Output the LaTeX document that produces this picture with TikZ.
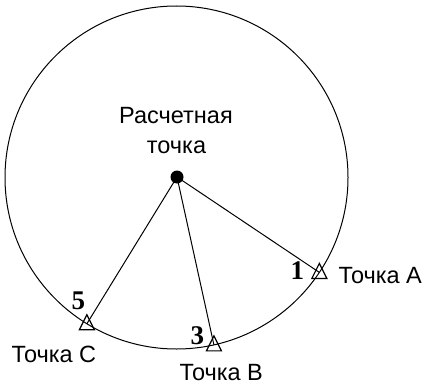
\documentclass[tikz,border=0pt]{standalone}
\usepackage{fontspec}
\setmainfont{Liberation Sans}
\newfontfamily\numfont{Liberation Serif}
\usetikzlibrary{calc}
\tikzset{
  lbl/.style={anchor=base west, inner sep=0pt, font=\fontsize{23.5}{27}\selectfont},
  num/.style={anchor=base west, inner sep=0pt, font=\numfont\bfseries\fontsize{27}{30}\selectfont},
  ctr/.style={anchor=base, inner sep=0pt, font=\fontsize{23.5}{27}\selectfont},
  station/.style={line width=1.2pt},
  ray/.style={line width=1pt}
}
\begin{document}
\begin{tikzpicture}[x=1pt,y=-1pt,line width=1pt]
\useasboundingbox (0,0) rectangle (422,385);
\coordinate (O) at (176.5,177.5);
\draw (O) circle[radius=171.5pt];
\node[circle, fill=black, minimum size=13pt, inner sep=0pt] (P) at (177,177) {};
\coordinate (A) at ($(O)+(-33.6:171.5pt)$);
\coordinate (B) at ($(O)+(-77.4:171.5pt)$);
\coordinate (C) at ($(O)+(-121.5:171.5pt)$);
\foreach \s in {A,B,C}{
  \draw[station] ($(\s)+(-7.5,6)$) -- ($(\s)+(0,-9)$) -- ($(\s)+(7.5,6)$) -- cycle;
}
\draw[ray] (P.center) -- (A);
\draw[ray] (P.center) -- (B);
\draw[ray] (P.center) -- (C);
\node[ctr] (t1) at (176,123) {Расчетная};
\node[ctr] (t2) at (176.5,153) {точка};
\node[lbl] (la) at (338,283) {Точка A};
\node[lbl] (lc) at (11,362) {Точка C};
\node[lbl] (lb) at (179,380) {Точка B};
\node[num] (n1) at (290,279) {1};
\node[num] (n5) at (71,309) {5};
\node[num] (n3) at (190,344) {3};
\end{tikzpicture}
\end{document}
